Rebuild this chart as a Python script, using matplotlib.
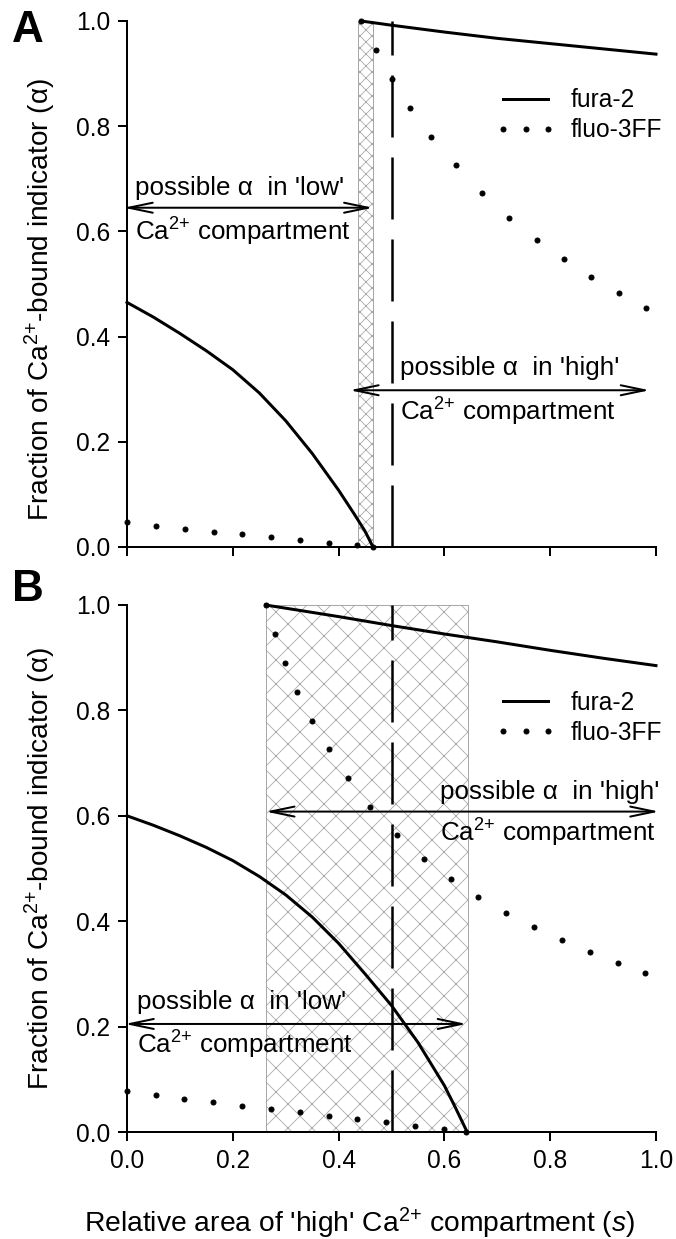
import matplotlib
matplotlib.use('Agg')
import matplotlib.pyplot as plt
from matplotlib.lines import Line2D

plt.rcParams['font.family'] = ['Liberation Sans', 'DejaVu Sans']
plt.rcParams['mathtext.fontset'] = 'custom'
plt.rcParams['mathtext.rm'] = 'Liberation Sans'
plt.rcParams['mathtext.it'] = 'Liberation Sans:italic'
plt.rcParams['hatch.linewidth'] = 0.8

# ---- panel A data ----
a_fura_low_s = [0, 0.05, 0.10, 0.15, 0.20, 0.25, 0.30, 0.35, 0.40, 0.43, 0.45, 0.465]
a_fura_low = [0.465, 0.437, 0.406, 0.373, 0.337, 0.293, 0.240, 0.178, 0.108, 0.062, 0.030, 0.0]
a_fura_high_s = [0.4425, 0.5, 0.6, 0.7, 0.8, 0.9, 1.0]
a_fura_high = [1.0, 0.992, 0.979, 0.967, 0.957, 0.947, 0.937]
a_fluo_low_s = [0, 0.0546, 0.11, 0.164, 0.218, 0.273, 0.327, 0.381, 0.435, 0.465]
a_fluo_low = [0.0467, 0.0397, 0.0347, 0.029, 0.024, 0.019, 0.0139, 0.0082, 0.0038, 0.0]
a_fluo_high_s = [0.4425, 0.471, 0.501, 0.535, 0.575, 0.621, 0.671, 0.723, 0.775, 0.826, 0.878, 0.930, 0.982]
a_fluo_high = [1.0, 0.944, 0.890, 0.835, 0.780, 0.726, 0.673, 0.626, 0.584, 0.547, 0.513, 0.483, 0.454]
a_band = (0.437, 0.465)
a_low_arrow = (-0.006, 0.465, 0.645)
a_high_arrow = (0.421, 0.988, 0.298)

# ---- panel B data ----
b_fura_low_s = [0, 0.05, 0.10, 0.15, 0.20, 0.25, 0.30, 0.35, 0.40, 0.45, 0.50, 0.55, 0.60, 0.62, 0.643]
b_fura_low = [0.600, 0.582, 0.562, 0.540, 0.515, 0.485, 0.450, 0.408, 0.358, 0.300, 0.240, 0.170, 0.088, 0.048, 0.0]
b_fura_high_s = [0.262, 0.4, 0.5, 0.6, 0.7, 0.8, 0.9, 1.0]
b_fura_high = [1.0, 0.978, 0.961, 0.945, 0.930, 0.914, 0.899, 0.885]
b_fluo_low_s = [0, 0.0546, 0.108, 0.163, 0.217, 0.272, 0.327, 0.381, 0.435, 0.490, 0.545, 0.599, 0.640]
b_fluo_low = [0.077, 0.0695, 0.0625, 0.0562, 0.0493, 0.0436, 0.0373, 0.031, 0.0246, 0.019, 0.012, 0.0057, 0.0]
b_fluo_high_s = [0.262, 0.280, 0.299, 0.322, 0.350, 0.381, 0.417, 0.460, 0.511, 0.561, 0.613, 0.664,
                 0.717, 0.770, 0.822, 0.875, 0.928, 0.980]
b_fluo_high = [1.0, 0.945, 0.890, 0.835, 0.780, 0.726, 0.671, 0.616, 0.563, 0.518, 0.480, 0.446,
               0.416, 0.389, 0.364, 0.342, 0.321, 0.302]
b_band = (0.262, 0.644)
b_low_arrow = (-0.004, 0.642, 0.205)
b_high_arrow = (0.262, 1.006, 0.608)

s_half = 0.5
ticks = [0.0, 0.2, 0.4, 0.6, 0.8, 1.0]
tick_labels = ['0.0', '0.2', '0.4', '0.6', '0.8', '1.0']
ca = 'Ca$^{2{+}}$'

fig = plt.figure(figsize=(676 / 72, 1239 / 72), dpi=72)
axA = fig.add_axes([127 / 676, 1 - 547 / 1239, 529 / 676, 526 / 1239])
axB = fig.add_axes([127 / 676, 1 - 1132 / 1239, 529 / 676, 527 / 1239])


def arrow(ax, x0, x1, y):
    ax.annotate('', xy=(x1, y), xytext=(x0, y), annotation_clip=False,
                arrowprops=dict(arrowstyle='<->,head_length=24,head_width=5', lw=2,
                                color='k', shrinkA=0, shrinkB=0, mutation_scale=1))


def panel(ax, band, hatch, fls, fl, fhs, fh, dls, dl, dhs, dh, low_arr, high_arr,
          low_txt, high_txt, leg_y, ylab_y):
    ax.axvspan(band[0], band[1], facecolor='white', edgecolor='#a8a8a8', hatch=hatch,
               lw=1, zorder=0)
    ax.plot([s_half, s_half], [0, 1], color='k', lw=2.5, dashes=(62 / 2.5, 20 / 2.5), zorder=2)
    ax.plot(fls, fl, color='k', lw=3, clip_on=False, zorder=3)
    ax.plot(fhs, fh, color='k', lw=3, clip_on=False, zorder=3)
    ax.plot(dls, dl, 'o', color='k', ms=5, clip_on=False, zorder=4)
    ax.plot(dhs, dh, 'o', color='k', ms=5, clip_on=False, zorder=4)
    arrow(ax, *low_arr)
    arrow(ax, *high_arr)
    for word, (x, y1, y2) in (('low', low_txt), ('high', high_txt)):
        ax.text(x, y1, "possible \u03b1  in '" + word + "'", fontsize=26, va='center', ha='left')
        ax.text(x, y2, ca + ' compartment', fontsize=26, va='center', ha='left')
    handles = [Line2D([], [], color='k', lw=3),
               Line2D([], [], color='k', marker='o', ls='none', ms=5)]
    ax.legend(handles, ['fura-2', 'fluo-3FF'], loc='center left', bbox_to_anchor=(0.697, leg_y),
              frameon=False, numpoints=3, fontsize=24.5, handlelength=2.45, handletextpad=0.6,
              borderpad=0, borderaxespad=0, labelspacing=0.25)
    ax.set_xlim(0, 1)
    ax.set_ylim(0, 1)
    ax.set_xticks(ticks)
    ax.set_yticks(ticks)
    ax.set_yticklabels(tick_labels)
    ax.set_xticklabels(tick_labels)
    for sp in ['top', 'right']:
        ax.spines[sp].set_visible(False)
    for sp in ['left', 'bottom']:
        ax.spines[sp].set_linewidth(2)
    ax.tick_params(direction='out', length=9, width=2, labelsize=24.5, pad=8)
    ax.set_ylabel('Fraction of ' + ca + '-bound indicator (\u03b1)', fontsize=28, va='center')
    ax.yaxis.set_label_coords(-0.163, ylab_y)


panel(axA, a_band, 'xx', a_fura_low_s, a_fura_low, a_fura_high_s, a_fura_high,
      a_fluo_low_s, a_fluo_low, a_fluo_high_s, a_fluo_high, a_low_arrow, a_high_arrow,
      (0.016, 0.683, 0.600), (0.517, 0.340, 0.257), 0.8205, 0.471)
panel(axB, b_band, 'x', b_fura_low_s, b_fura_low, b_fura_high_s, b_fura_high,
      b_fluo_low_s, b_fluo_low, b_fluo_high_s, b_fluo_high, b_low_arrow, b_high_arrow,
      (0.019, 0.247, 0.165), (0.591, 0.645, 0.567), 0.786, 0.50)
axA.tick_params(labelbottom=False)

fig.text(12 / 676, 1 - 31 / 1239, 'A', fontsize=44, fontweight='bold', va='center')
fig.text(12 / 676, 1 - 589 / 1239, 'B', fontsize=44, fontweight='bold', va='center')
fig.text(360 / 676, 1 - 1223 / 1239, "Relative area of 'high' " + ca + " compartment ($s$)",
         fontsize=28.3, ha='center', va='center')

fig.savefig('out.png', dpi=72)
